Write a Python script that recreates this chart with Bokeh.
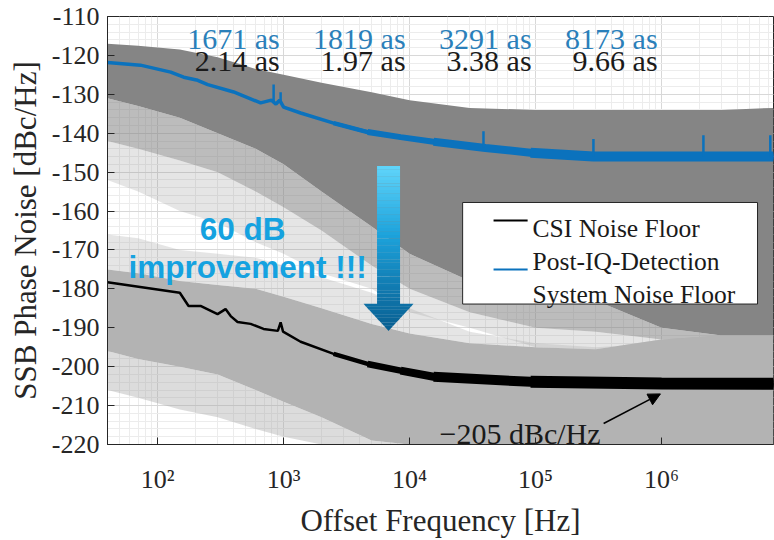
import numpy as np
from bokeh.plotting import figure
from bokeh.models import FixedTicker, Arrow, NormalHead, Range1d
from bokeh.core.properties import value
from bokeh.embed import file_html
from bokeh.resources import INLINE

# ---------------- data ----------------
# envelopes of the measured trace families (dBc/Hz) on a common frequency grid
env_freq = [40, 70, 150, 300, 600, 1e3, 2e3, 5e3, 1e4, 3e4, 1e5, 3e5, 1e6, 3e6, 7.74e6]
sys_top = [-117, -117.5, -118.5, -120.5, -123.5, -125, -127, -129.5, -131.5, -133.5, -134, -134, -134, -134, -133.5]
sys_dense_bottom = [-131, -133, -136, -140, -144, -148, -155, -164, -171, -178, -182, -183, -190, -192, -192]
sys_mid_bottom = [-142, -144, -147, -150, -155, -159, -165, -174, -180, -186, -190, -191, -193, -193, -193]
sys_sparse_bottom = [-152, -155, -160, -163, -168, -171, -176, -180, -186, -190, -195, -196, -195, -194, -193]
csi_sparse_top = [-166, -167, -170, -171, -172, -174, -177, -181, -185, -191, -194, -195, -194, -193, -193]
csi_dense_top = [-175, -176, -178, -179, -180, -182, -185, -189, -191.5, -194, -195, -195.5, -193, -192, -192]
csi_dense_bottom = [-196, -198, -200, -202, -206, -209, -213, -219, -220, -220, -220, -220, -220, -220, -220]
csi_sparse_bottom = [-206, -208, -211, -213, -216, -218, -220, -220, -220, -220, -220, -220, -220, -220, -220]

# Post-IQ-Detection system noise floor (blue) and its narrow spurs
post_iq_freq = [40, 73, 127, 161, 208, 250, 401, 657, 800, 870, 930, 1000, 1365, 2494, 4643, 8490, 15500,
                40000, 91300, 288000, 818000, 2.15e6, 7.74e6]
post_iq_db = [-121.8, -122.5, -124.3, -125.6, -126.4, -127.5, -129.4, -132.2, -131.5, -132.5, -131.5, -133.3,
              -134.8, -137.4, -139.7, -141.0, -142.2, -143.8, -145.0, -146, -146, -146, -146]
post_iq_spur_freq = [833, 947, 38600, 288000, 2.15e6, 7.3e6]
post_iq_spur_db = [-127.5, -129.5, -139.5, -141.5, -140.5, -140.5]

# CSI noise floor (black)
csi_freq = [40, 106, 150, 176, 219, 299, 346, 380, 431, 547, 693, 900, 947, 990, 1365, 2494, 4643, 8490,
            15500, 91300, 1e6, 7.74e6]
csi_db = [-178.3, -180.3, -181.0, -184.4, -184.4, -186.5, -185.2, -187.0, -188.5, -189.0, -190.3, -190.8,
          -188.6, -191.0, -193.6, -196.7, -199.3, -201.0, -202.6, -203.9, -204.3, -204.4]

jitter_post_iq = ["1671 as", "1819 as", "3291 as", "8173 as"]
jitter_csi = ["2.14 as", "1.97 as", "3.38 as", "9.66 as"]

decade_ticks = [100, 1000, 10000, 100000, 1000000]
decade_labels = ["10\u00b2", "10\u00b3", "10\u2074", "10\u2075", "10\u2076"]
db_ticks = list(range(-220, -109, 10))

SERIF = "Liberation Serif"
TXT = "#262626"

# ---------------- figure ----------------
p = figure(width=774, height=540, x_axis_type="log",
           x_range=Range1d(40, 7.74e6), y_range=Range1d(-220, -110),
           output_backend="svg", toolbar_location=None,
           min_border_left=107, min_border_right=1, min_border_top=16, min_border_bottom=94)
p.background_fill_color = "white"
p.border_fill_color = "white"
p.outline_line_color = TXT
p.outline_line_width = 1

# axes
p.xaxis.ticker = FixedTicker(ticks=decade_ticks,
                             minor_ticks=[m * 10 ** k for k in range(1, 7) for m in range(2, 10)])
p.xaxis.major_label_overrides = {t: l for t, l in zip(decade_ticks, decade_labels)}
p.yaxis.ticker = FixedTicker(ticks=db_ticks, minor_ticks=list(range(-220, -109, 2)))
p.yaxis.major_label_overrides = {t: str(t) for t in db_ticks}
for ax in (p.xaxis[0], p.yaxis[0]):
    ax.major_label_text_font = SERIF
    ax.major_label_text_font_size = "26px"
    ax.major_label_text_color = TXT
    ax.axis_label_text_font = SERIF
    ax.axis_label_text_font_size = "31px"
    ax.axis_label_text_font_style = "normal"
    ax.axis_label_text_color = TXT
    ax.axis_line_color = TXT
    ax.major_tick_in = 7
    ax.major_tick_out = 0
    ax.minor_tick_in = 0
    ax.minor_tick_out = 0
    ax.major_tick_line_color = TXT
p.xaxis.axis_label = "Offset Frequency [Hz]"
p.yaxis.axis_label = "SSB Phase Noise [dBc/Hz]"
p.xaxis.major_label_standoff = 20
p.xaxis.axis_label_standoff = 6
p.yaxis.major_label_standoff = 8
p.yaxis.axis_label_standoff = 6

p.xgrid.grid_line_color = "#d8d8d8"
p.ygrid.grid_line_color = "#d8d8d8"
p.xgrid.minor_grid_line_color = "#ececec"
p.ygrid.minor_grid_line_color = "#ececec"

# ---------------- trace families (gray envelopes) ----------------
p.varea(x=env_freq, y1=sys_sparse_bottom, y2=sys_mid_bottom, fill_color="#8a8a8a", fill_alpha=0.22)
p.varea(x=env_freq, y1=csi_dense_top, y2=csi_sparse_top, fill_color="#a8a8a8", fill_alpha=0.3)
p.varea(x=env_freq, y1=sys_mid_bottom, y2=sys_dense_bottom, fill_color="#858585", fill_alpha=0.55)
p.varea(x=env_freq, y1=sys_dense_bottom, y2=sys_top, fill_color="#858585")
p.varea(x=env_freq, y1=csi_dense_bottom, y2=csi_dense_top, fill_color="#b3b3b3")
p.varea(x=env_freq, y1=csi_sparse_bottom, y2=csi_dense_bottom, fill_color="#a8a8a8", fill_alpha=0.4)

# ---------------- median curves ----------------
BLUE = "#0b72bd"
pf = np.array(post_iq_freq); pdb = np.array(post_iq_db)
cf = np.array(csi_freq); cdb = np.array(csi_db)
p.line(pf, pdb, line_color=BLUE, line_width=3.5)
for f0, w in ((2494, 4.5), (4643, 6), (15500, 8), (91300, 10)):
    m = pf >= f0
    p.line(pf[m], pdb[m], line_color=BLUE, line_width=w)
spur_base = np.interp(np.log10(post_iq_spur_freq), np.log10(pf), pdb)
p.segment(x0=post_iq_spur_freq, y0=spur_base, x1=post_iq_spur_freq, y1=post_iq_spur_db,
          line_color=BLUE, line_width=2.5)

p.line(cf, cdb, line_color="black", line_width=2.5)
for f0, w in ((2494, 4.5), (4643, 6.5), (8490, 8), (15500, 10), (91300, 12)):
    m = cf >= f0
    p.line(cf[m], cdb[m], line_color="black", line_width=w)

# ---------------- jitter annotations ----------------
label_x = [t * 0.93 for t in decade_ticks[1:]]
p.text(x=label_x, y=[-115.6] * 4, text=jitter_post_iq, text_align="right", text_baseline="alphabetic",
       text_font=value(SERIF), text_font_size="30px", text_color="#2a7fba")
p.text(x=label_x, y=[-121.3] * 4, text=jitter_csi, text_align="right", text_baseline="alphabetic",
       text_font=value(SERIF), text_font_size="30px", text_color="#1a1a1a")

# ---------------- gradient "improvement" arrow ----------------
xc = 3.833          # log10 of arrow centre
shaft_hw = 0.0913
head_hw = 0.198
y_top, y_head, y_tip = -148.4, -183.9, -190.8
c_top = np.array([95, 212, 250]); c_mid = np.array([29, 163, 220]); c_bot = np.array([14, 112, 165])
n = 40
edges = np.linspace(y_top, y_head, n + 1)
for i in range(n):
    t = i / (n - 1)
    c = c_top + (c_mid - c_top) * min(t * 2, 1) if t < 0.5 else c_mid + (c_bot - c_mid) * (t - 0.5) * 2
    col = "#%02x%02x%02x" % tuple(int(v) for v in c)
    p.quad(left=10 ** (xc - shaft_hw), right=10 ** (xc + shaft_hw), top=edges[i], bottom=edges[i + 1] - 0.05,
           fill_color=col, line_color=None)
nh = 10
hedges = np.linspace(y_head, y_tip, nh + 1)
for i in range(nh):
    w0 = head_hw * (1 - i / nh); w1 = head_hw * (1 - (i + 1) / nh)
    c = c_bot + (np.array([8, 95, 145]) - c_bot) * i / (nh - 1)
    col = "#%02x%02x%02x" % tuple(int(v) for v in c)
    xs = [10 ** (xc - w0), 10 ** (xc + w0), 10 ** (xc + w1), 10 ** (xc - w1)]
    ys = [hedges[i] + 0.05, hedges[i] + 0.05, hedges[i + 1], hedges[i + 1]]
    p.patch(xs, ys, fill_color=col, line_color=None)

p.text(x=[473], y=[-164.7], text=["60 dB"], text_align="center", text_baseline="alphabetic",
       text_font=value("Liberation Sans"), text_font_style="bold", text_font_size="31.5px", text_color="#15a2e0")
p.text(x=[518], y=[-174.5], text=["improvement !!!"], text_align="center", text_baseline="alphabetic",
       text_font=value("Liberation Sans"), text_font_style="bold", text_font_size="31.5px", text_color="#15a2e0")

# ---------------- -205 dBc/Hz callout ----------------
p.text(x=[3.28e5], y=[-217.2], text=["\u2212205 dBc/Hz"], text_align="right", text_baseline="alphabetic",
       text_font=value(SERIF), text_font_size="30px", text_color="#1a1a1a")
p.add_layout(Arrow(x_start=3.47e5, y_start=-214.6, x_end=9.8e5, y_end=-207.0, line_width=1.5,
                   line_color="black", end=NormalHead(size=12, fill_color="black", line_color="black")))

# ---------------- legend (drawn) ----------------
p.quad(left=26370, right=5.78e6, top=-157.8, bottom=-183.9, fill_color="white", line_color=TXT, line_width=1)
p.line([46400, 86500], [-162.4, -162.4], line_color="black", line_width=2)
p.line([46400, 86500], [-175.0, -175.0], line_color=BLUE, line_width=2)
p.text(x=[94700, 94700, 94700], y=[-164.5, -172.9, -181.4],
       text=["CSI Noise Floor", "Post-IQ-Detection", "System Noise Floor"],
       text_align="left", text_baseline="alphabetic", text_font=value(SERIF), text_font_size="25.5px",
       text_color="#1a1a1a")

open("out.html", "w").write(file_html(p, INLINE))
